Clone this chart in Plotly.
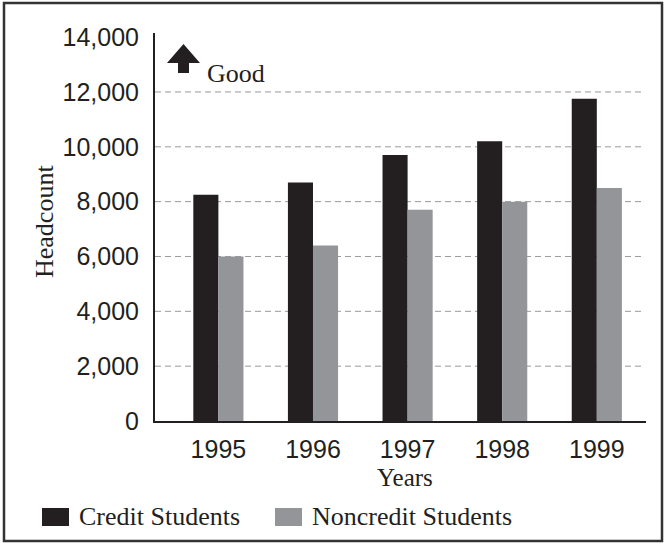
import plotly.graph_objects as go

# ---- data ----
years = [1995, 1996, 1997, 1998, 1999]
year_labels = ["1995", "1996", "1997", "1998", "1999"]
credit = [8250, 8700, 9700, 10200, 11750]
noncredit = [6000, 6400, 7700, 8000, 8500]
series_names = ["Credit Students", "Noncredit Students"]
y_ticks = [0, 2000, 4000, 6000, 8000, 10000, 12000, 14000]
y_tick_labels = ["0", "2,000", "4,000", "6,000", "8,000", "10,000", "12,000", "14,000"]
grid_values = [2000, 4000, 6000, 8000, 10000, 12000]

# ---- style ----
W, H = 665, 544
L, R, T, B = 155, 19, 33, 123
PW, PH = W - L - R, H - T - B
BLACK = "#231f20"
GRAY = "#939598"
SANS = "Liberation Sans, Arial, sans-serif"
SERIF = "Liberation Serif, Times New Roman, serif"


def px(x):
    return (x - L) / PW


def py(y):
    return (H - B - y) / PH


fig = go.Figure()
fig.add_trace(go.Bar(x=years, y=credit, name=series_names[0],
                     marker=dict(color=BLACK, line=dict(width=0)), showlegend=False))
fig.add_trace(go.Bar(x=years, y=noncredit, name=series_names[1],
                     marker=dict(color=GRAY, line=dict(width=0)), showlegend=False))

shapes = []
# dashed gridlines (none at the top tick)
for gv in grid_values:
    shapes.append(dict(type="line", xref="paper", yref="y", x0=0, x1=px(645), y0=gv, y1=gv,
                       line=dict(color="#9a9a9a", width=1, dash="6px,4px"), layer="below"))
# outer frame
shapes.append(dict(type="rect", xref="paper", yref="paper",
                   x0=px(4), x1=px(662), y0=py(541), y1=py(3),
                   line=dict(color="#333333", width=2.5), fillcolor="rgba(0,0,0,0)", layer="below"))
# "Good" arrow
ax_c, ah_l, ah_r, ah_top, ah_base, sh_w, sh_bot = 183.5, 167, 200, 44, 63, 11, 73
pts = [(ah_l, ah_base), (ax_c, ah_top), (ah_r, ah_base), (ax_c + sh_w / 2, ah_base),
       (ax_c + sh_w / 2, sh_bot), (ax_c - sh_w / 2, sh_bot), (ax_c - sh_w / 2, ah_base)]
path = "M " + " L ".join(f"{px(a):.5f},{py(b):.5f}" for a, b in pts) + " Z"
shapes.append(dict(type="path", xref="paper", yref="paper", path=path,
                   fillcolor=BLACK, line=dict(width=0)))
# legend squares
for (x0, x1), col in zip([(42, 69), (275, 302)], [BLACK, GRAY]):
    shapes.append(dict(type="rect", xref="paper", yref="paper",
                       x0=px(x0), x1=px(x1), y0=py(526), y1=py(508),
                       fillcolor=col, line=dict(width=0)))

annotations = [
    dict(text="Good", xref="paper", yref="paper", x=px(205), y=py(74),
         xanchor="left", yanchor="middle", showarrow=False,
         font=dict(family=SERIF, size=26, color=BLACK)),
    dict(text="Years", xref="paper", yref="paper", x=px(405), y=py(477),
         xanchor="center", yanchor="middle", showarrow=False,
         font=dict(family=SERIF, size=25, color=BLACK)),
    dict(text="Headcount", xref="paper", yref="paper", x=px(44), y=py(222),
         xanchor="center", yanchor="middle", showarrow=False, textangle=-90,
         font=dict(family=SERIF, size=26, color=BLACK)),
]
for xl, name in zip([77, 310], series_names):
    annotations.append(dict(text=name, xref="paper", yref="paper", x=px(xl), y=py(516),
                            xanchor="left", yanchor="middle", showarrow=False,
                            font=dict(family=SERIF, size=26, color=BLACK)))

fig.update_layout(
    width=W, height=H,
    margin=dict(l=L, r=R, t=T, b=B, pad=0),
    paper_bgcolor="white", plot_bgcolor="white",
    barmode="group", bargap=0.47, bargroupgap=0,
    showlegend=False,
    shapes=shapes, annotations=annotations,
    xaxis=dict(range=[1994.33, 1999.52], tickvals=years, ticktext=year_labels,
               showgrid=False, zeroline=False, showline=True, linecolor=BLACK, linewidth=2,
               ticks="outside", ticklen=5, tickcolor="rgba(0,0,0,0)",
               tickfont=dict(family=SANS, size=25, color=BLACK)),
    yaxis=dict(range=[0, 14150], tickvals=y_ticks, ticktext=y_tick_labels,
               showgrid=False, zeroline=False, showline=True, linecolor=BLACK, linewidth=2,
               ticks="outside", ticklen=9, tickcolor="rgba(0,0,0,0)",
               tickfont=dict(family=SANS, size=25, color=BLACK)),
)

fig.write_html("out.html", config={"displayModeBar": False},
               post_script="document.body.style.margin='0';document.body.style.overflow='hidden';")
